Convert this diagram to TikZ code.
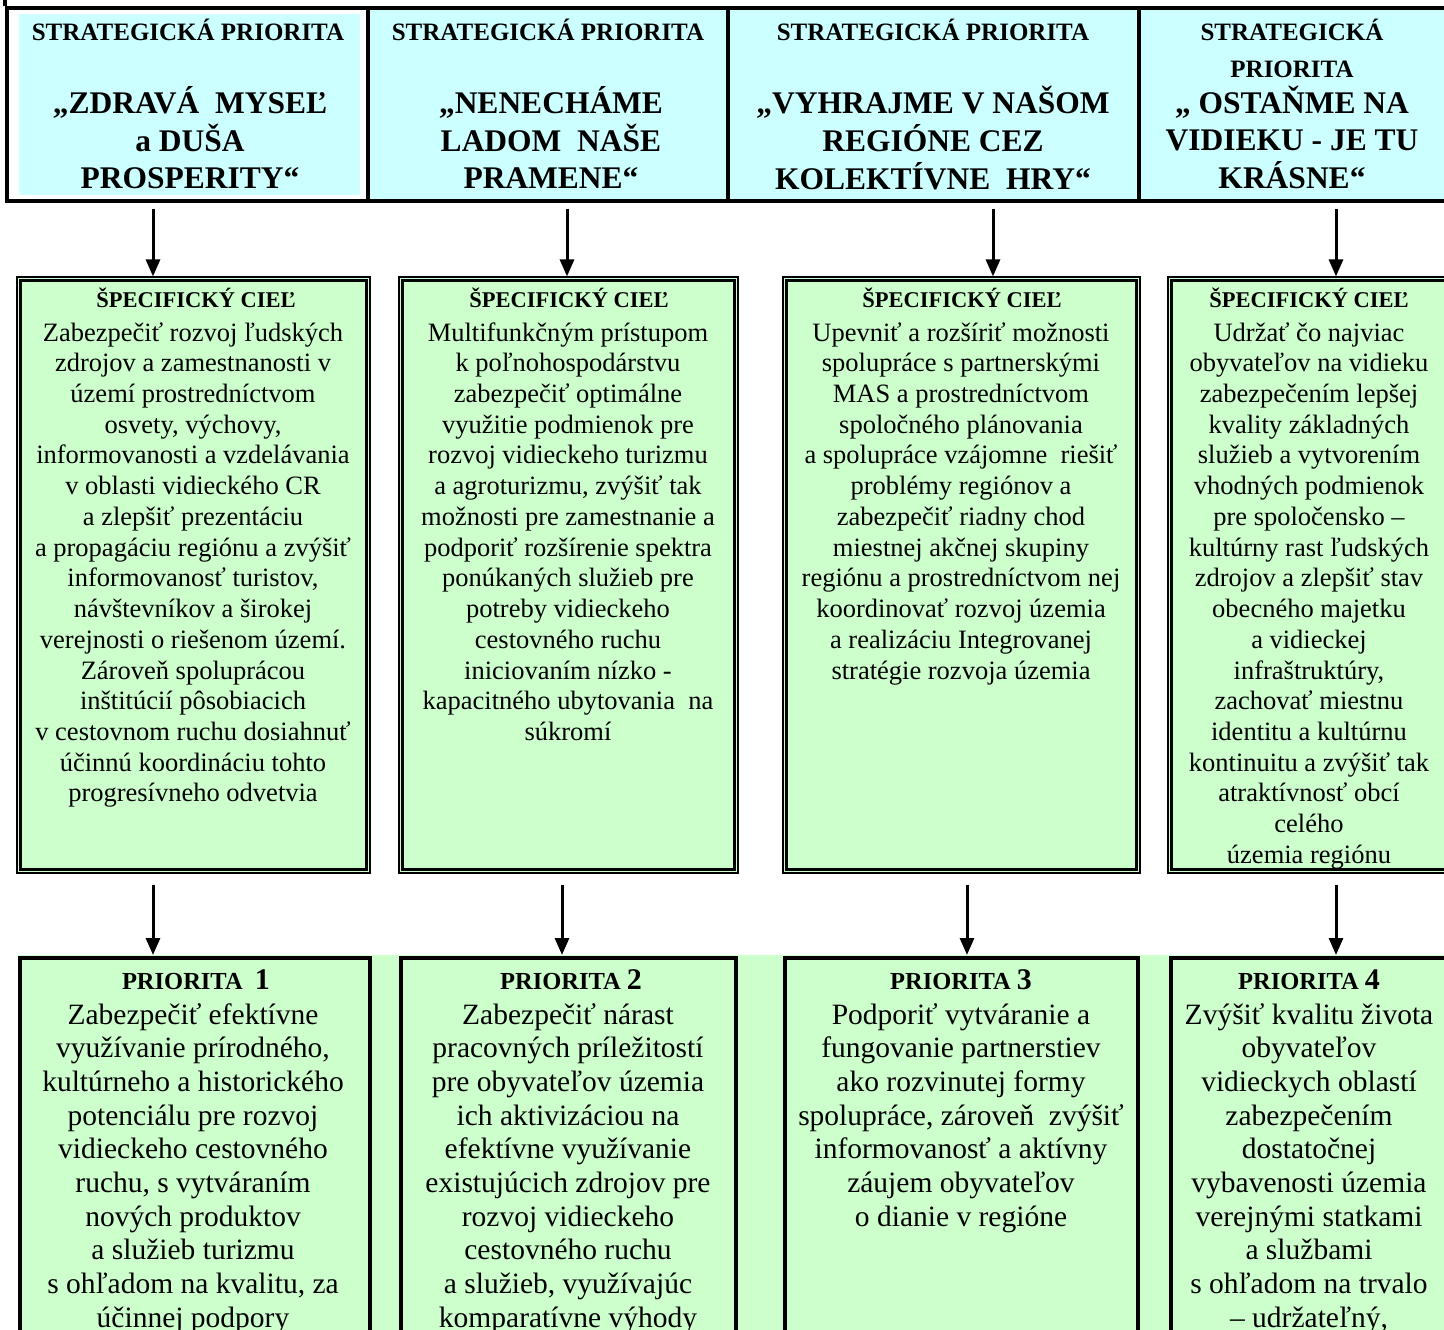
\documentclass[tikz,border=0pt]{standalone}
\usepackage{fontspec}
\setmainfont{Liberation Serif}
\usetikzlibrary{arrows.meta}
\definecolor{cyanfill}{HTML}{CCFFFF}
\definecolor{greenfill}{HTML}{CCFFCC}
\newcommand{\mlines}[1]{\begin{tabular}[t]{@{}c@{}}#1\end{tabular}}
\tikzset{
  topcell/.style={draw, line width=4pt, inner sep=0, fill=cyanfill},
  tophead/.style={anchor=base, inner sep=0, font=\bfseries\fontsize{25}{37}\selectfont},
  toptitle/.style={anchor=base, inner sep=0, font=\bfseries\fontsize{31.5}{37}\selectfont},
  midframe/.style={draw, line width=1.2pt, fill=greenfill, inner sep=0},
  midinner/.style={draw, line width=2.6pt},
  midhead/.style={anchor=base, inner sep=0, font=\bfseries\fontsize{22.5}{27}\selectfont},
  midbody/.style={anchor=base, inner sep=0, font=\fontsize{26.5}{30.73}\selectfont},
  botframe/.style={draw, line width=4pt, fill=greenfill, inner sep=0},
  bothead/.style={anchor=base, inner sep=0, font=\bfseries\fontsize{24.5}{30}\selectfont},
  botbody/.style={anchor=base, inner sep=0, font=\fontsize{29.5}{33.67}\selectfont},
  arr/.style={line width=3pt, -{Triangle[length=17pt,width=14pt]}}
}
\newcommand{\bignum}[1]{{\fontsize{30}{30}\selectfont #1}}
\begin{document}
\begin{tikzpicture}[x=1pt,y=-1pt]
\useasboundingbox (0,0) rectangle (1444,1330);
\clip (0,0) rectangle (1444,1330);

% ---------- top table ----------
\node[topcell, fill=white, minimum width=361, minimum height=192] (t1) at (187.5,104.5) {};
\node[topcell, minimum width=360, minimum height=192] (t2) at (548,104.5) {};
\node[topcell, minimum width=411, minimum height=192] (t3) at (933.5,104.5) {};
\node[topcell, minimum width=321, minimum height=192] (t4) at (1299.5,104.5) {};
\fill[cyanfill] (19,14) rectangle (360,195);
\draw[line width=4pt] (t1.north west) -- ++(0,-12);

\node[tophead] (h1) at (188,41) {STRATEGICKÁ PRIORITA};
\node[toptitle] (n1) at (190,113.4) {\mlines{„ZDRAVÁ~~MYSEĽ\\a DUŠA\\PROSPERITY“}};
\node[tophead] (h2) at (548,41) {STRATEGICKÁ PRIORITA};
\node[toptitle] (n2) at (551,113.4) {\mlines{„NENECHÁME\\LADOM~~NAŠE\\PRAMENE“}};
\node[tophead] (h3) at (933,41) {STRATEGICKÁ PRIORITA};
\node[toptitle] (n3) at (933,113.4) {\mlines{„VYHRAJME V NAŠOM\\REGIÓNE CEZ\\KOLEKTÍVNE~~HRY“}};
\node[tophead] (h4) at (1292,41) {\mlines{STRATEGICKÁ\\PRIORITA}};
\node[toptitle] (n4) at (1292,113.4) {\mlines{„ OSTAŇME NA\\VIDIEKU - JE TU\\KRÁSNE“}};

% ---------- middle boxes ----------
\node[midframe, minimum width=353, minimum height=596] (c1) at (193.5,575) {};
\node[midframe, minimum width=339, minimum height=596] (c2) at (568.5,575) {};
\node[midframe, minimum width=357, minimum height=596] (c3) at (961.5,575) {};
\node[midframe, minimum width=290, minimum height=596] (c4) at (1313,575) {};
\foreach \b in {c1,c2,c3,c4}{
  \draw[midinner] ([shift={(4,4)}]\b.north west) rectangle ([shift={(-4,-4)}]\b.south east);
}

\node[midhead] (ch1) at (196,307.5) {ŠPECIFICKÝ CIEĽ};
\node[midbody] (cb1) at (193,341) {\mlines{Zabezpečiť rozvoj ľudských\\zdrojov a zamestnanosti v\\území prostredníctvom\\osvety, výchovy,\\informovanosti a vzdelávania\\v oblasti vidieckého CR\\a zlepšiť prezentáciu\\a propagáciu regiónu a zvýšiť\\informovanosť turistov,\\návštevníkov a širokej\\verejnosti o riešenom území.\\Zároveň spoluprácou\\inštitúcií pôsobiacich\\v cestovnom ruchu dosiahnuť\\účinnú koordináciu tohto\\progresívneho odvetvia}};

\node[midhead] (ch2) at (569,307.5) {ŠPECIFICKÝ CIEĽ};
\node[midbody] (cb2) at (568,341) {\mlines{Multifunkčným prístupom\\k poľnohospodárstvu\\zabezpečiť optimálne\\využitie podmienok pre\\rozvoj vidieckeho turizmu\\a agroturizmu, zvýšiť tak\\možnosti pre zamestnanie a\\podporiť rozšírenie spektra\\ponúkaných služieb pre\\potreby vidieckeho\\cestovného ruchu\\iniciovaním nízko -\\kapacitného ubytovania~~na\\súkromí}};

\node[midhead] (ch3) at (962,307.5) {ŠPECIFICKÝ CIEĽ};
\node[midbody] (cb3) at (961,341) {\mlines{Upevniť a rozšíriť možnosti\\spolupráce s partnerskými\\MAS a prostredníctvom\\spoločného plánovania\\a spolupráce vzájomne~~riešiť\\problémy regiónov a\\zabezpečiť riadny chod\\miestnej akčnej skupiny\\regiónu a prostredníctvom nej\\koordinovať rozvoj územia\\a realizáciu Integrovanej\\stratégie rozvoja územia}};

\node[midhead] (ch4) at (1309,307.5) {ŠPECIFICKÝ CIEĽ};
\node[midbody] (cb4) at (1309,341) {\mlines{Udržať čo najviac\\obyvateľov na vidieku\\zabezpečením lepšej\\kvality základných\\služieb a vytvorením\\vhodných podmienok\\pre spoločensko –\\kultúrny rast ľudských\\zdrojov a zlepšiť stav\\obecného majetku\\a vidieckej\\infraštruktúry,\\zachovať miestnu\\identitu a kultúrnu\\kontinuitu a zvýšiť tak\\atraktívnosť obcí\\celého\\územia regiónu}};

% ---------- bottom boxes ----------
\fill[greenfill] (18,955) rectangle (1444,1330);
\node[botframe, minimum width=350, minimum height=500] (p1) at (195,1208) {};
\node[botframe, minimum width=334.5, minimum height=500] (p2) at (568.25,1208) {};
\node[botframe, minimum width=353, minimum height=500] (p3) at (961,1208) {};
\node[botframe, minimum width=290, minimum height=500] (p4) at (1315.5,1208) {};

\node[bothead] (ph1) at (196,989.5) {PRIORITA~~\bignum{1}};
\node[botbody] (pb1) at (193,1024) {\mlines{Zabezpečiť efektívne\\využívanie prírodného,\\kultúrneho a historického\\potenciálu pre rozvoj\\vidieckeho cestovného\\ruchu, s vytváraním\\nových produktov\\a služieb turizmu\\s ohľadom na kvalitu, za\\účinnej podpory}};

\node[bothead] (ph2) at (571,989.5) {PRIORITA \bignum{2}};
\node[botbody] (pb2) at (568,1024) {\mlines{Zabezpečiť nárast\\pracovných príležitostí\\pre obyvateľov územia\\ich aktivizáciou na\\efektívne využívanie\\existujúcich zdrojov pre\\rozvoj vidieckeho\\cestovného ruchu\\a služieb, využívajúc\\komparatívne výhody}};

\node[bothead] (ph3) at (961,989.5) {PRIORITA \bignum{3}};
\node[botbody] (pb3) at (961,1024) {\mlines{Podporiť vytváranie a\\fungovanie partnerstiev\\ako rozvinutej formy\\spolupráce, zároveň~~zvýšiť\\informovanosť a aktívny\\záujem obyvateľov\\o dianie v regióne}};

\node[bothead] (ph4) at (1309,989.5) {PRIORITA \bignum{4}};
\node[botbody] (pb4) at (1309,1024) {\mlines{Zvýšiť kvalitu života\\obyvateľov\\vidieckych oblastí\\zabezpečením\\dostatočnej\\vybavenosti územia\\verejnými statkami\\a službami\\s ohľadom na trvalo\\– udržateľný,}};

% ---------- arrows ----------
\coordinate (a1) at (153,0);
\coordinate (a2) at (567,0);
\coordinate (a3) at (993,0);
\coordinate (a4) at (1336,0);
\coordinate (b1) at (153,0);
\coordinate (b2) at (562,0);
\coordinate (b3) at (967,0);
\coordinate (b4) at (1336,0);
\draw[arr] ([yshift=-6]a1 |- t1.south) -- (a1 |- c1.north);
\draw[arr] ([yshift=-6]a2 |- t2.south) -- (a2 |- c2.north);
\draw[arr] ([yshift=-6]a3 |- t3.south) -- (a3 |- c3.north);
\draw[arr] ([yshift=-6]a4 |- t4.south) -- (a4 |- c4.north);
\draw[arr] ([yshift=-11]b1 |- c1.south) -- ([yshift=1]b1 |- p1.north);
\draw[arr] ([yshift=-11]b2 |- c2.south) -- ([yshift=1]b2 |- p2.north);
\draw[arr] ([yshift=-11]b3 |- c3.south) -- ([yshift=1]b3 |- p3.north);
\draw[arr] ([yshift=-11]b4 |- c4.south) -- ([yshift=1]b4 |- p4.north);
\end{tikzpicture}
\end{document}
